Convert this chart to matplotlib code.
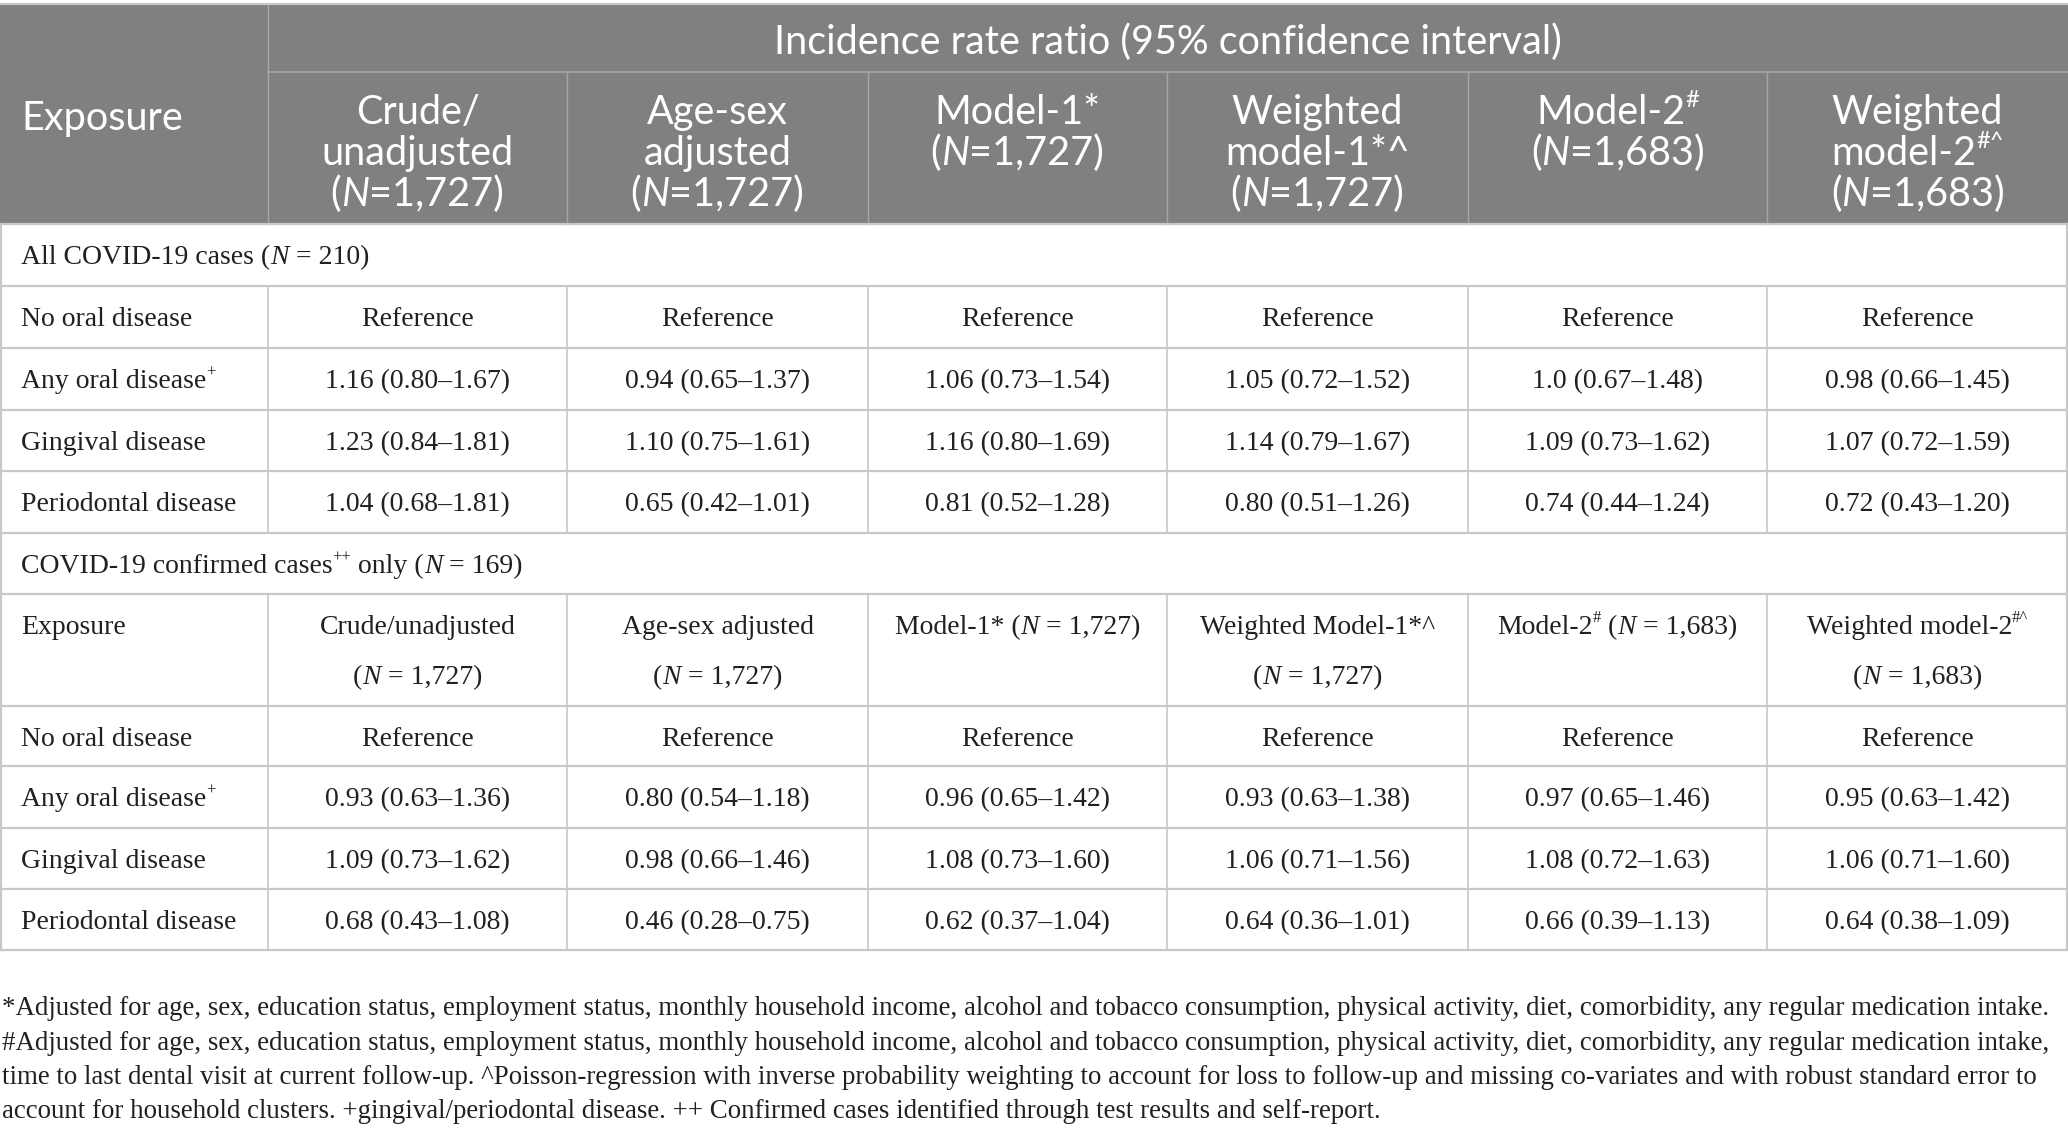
import re
import matplotlib
matplotlib.use("Agg")
import matplotlib.pyplot as plt
from matplotlib.font_manager import FontProperties
from matplotlib.patches import Rectangle

# ---------------- data ----------------
spanner_title = "Incidence rate ratio (95% confidence interval)"
exposure_label = "Exposure"
header_cells = [
    ["Crude/", "unadjusted", "({i:N}=1,727)"],
    ["Age-sex", "adjusted", "({i:N}=1,727)"],
    ["Model-1*", "({i:N}=1,727)"],
    ["Weighted", "model-1*^", "({i:N}=1,727)"],
    ["Model-2{s:#}", "({i:N}=1,683)"],
    ["Weighted", "model-2{s:#^}", "({i:N}=1,683)"],
]
section1_title = "All COVID-19 cases ({i:N} = 210)"
section2_title = "COVID-19 confirmed cases{s:++} only ({i:N} = 169)"
categories = ["No oral disease", "Any oral disease{s:+}", "Gingival disease", "Periodontal disease"]
reference_label = "Reference"

all_any = ["1.16 (0.80–1.67)", "0.94 (0.65–1.37)", "1.06 (0.73–1.54)",
           "1.05 (0.72–1.52)", "1.0 (0.67–1.48)", "0.98 (0.66–1.45)"]
all_gingival = ["1.23 (0.84–1.81)", "1.10 (0.75–1.61)", "1.16 (0.80–1.69)",
                "1.14 (0.79–1.67)", "1.09 (0.73–1.62)", "1.07 (0.72–1.59)"]
all_perio = ["1.04 (0.68–1.81)", "0.65 (0.42–1.01)", "0.81 (0.52–1.28)",
             "0.80 (0.51–1.26)", "0.74 (0.44–1.24)", "0.72 (0.43–1.20)"]

sub_header_cells = [
    ["Crude/unadjusted", "({i:N} = 1,727)"],
    ["Age-sex adjusted", "({i:N} = 1,727)"],
    ["Model-1* ({i:N} = 1,727)"],
    ["Weighted Model-1*^", "({i:N} = 1,727)"],
    ["Model-2{s:#} ({i:N} = 1,683)"],
    ["Weighted model-2{s:#^}", "({i:N} = 1,683)"],
]
conf_any = ["0.93 (0.63–1.36)", "0.80 (0.54–1.18)", "0.96 (0.65–1.42)",
            "0.93 (0.63–1.38)", "0.97 (0.65–1.46)", "0.95 (0.63–1.42)"]
conf_gingival = ["1.09 (0.73–1.62)", "0.98 (0.66–1.46)", "1.08 (0.73–1.60)",
                 "1.06 (0.71–1.56)", "1.08 (0.72–1.63)", "1.06 (0.71–1.60)"]
conf_perio = ["0.68 (0.43–1.08)", "0.46 (0.28–0.75)", "0.62 (0.37–1.04)",
              "0.64 (0.36–1.01)", "0.66 (0.39–1.13)", "0.64 (0.38–1.09)"]

footnotes = [
    "*Adjusted for age, sex, education status, employment status, monthly household income, alcohol and tobacco consumption, physical activity, diet, comorbidity, any regular medication intake.",
    "#Adjusted for age, sex, education status, employment status, monthly household income, alcohol and tobacco consumption, physical activity, diet, comorbidity, any regular medication intake,",
    "time to last dental visit at current follow-up. ^Poisson-regression with inverse probability weighting to account for loss to follow-up and missing co-variates and with robust standard error to",
    "account for household clusters. +gingival/periodontal disease. ++ Confirmed cases identified through test results and self-report.",
]

# ---------------- layout / style ----------------
W, H = 2068, 1140
SERIF = ["Liberation Serif", "DejaVu Serif"]
SANS = ["Lato", "DejaVu Sans"]
HDR_BG = "#808080"
GRID = "#c8c8c8"
HDR_LINE = "#a6a6a6"
TXT = "#231f20"

col_edges = [0, 268, 567, 868, 1167, 1468, 1767, 2068]
row_edges = [224, 286, 348, 410, 471, 533, 594, 706, 766, 828, 889, 950]

fig = plt.figure(figsize=(W / 100, H / 100), dpi=100)
ax = fig.add_axes([0, 0, 1, 1])
ax.set_xlim(0, W)
ax.set_ylim(H, 0)
ax.axis("off")
renderer = fig.canvas.get_renderer()


def fprop(family, size, italic=False):
    return FontProperties(family=family, size=size,
                          style="italic" if italic else "normal")


def text_width(s, prop):
    w1, _, _ = renderer.get_text_width_height_descent("|" + s + "|", prop, ismath=False)
    w2, _, _ = renderer.get_text_width_height_descent("||", prop, ismath=False)
    return w1 - w2


def rich(x, y_center, markup, family, size, color, ha="left", cap=0.66):
    pieces = []
    for tok in re.split(r"(\{[is]:[^}]*\})", markup):
        if not tok:
            continue
        if tok.startswith("{i:"):
            pieces.append((tok[3:-1], "i"))
        elif tok.startswith("{s:"):
            pieces.append((tok[3:-1], "s"))
        else:
            pieces.append((tok, "n"))
    px = size * 100 / 72
    baseline = y_center + cap * px / 2
    props, widths = [], []
    for t, k in pieces:
        p = fprop(family, size * (0.6 if k == "s" else 1.0), k == "i")
        props.append(p)
        widths.append(text_width(t, p))
    total = sum(widths)
    x0 = x if ha == "left" else x - total / 2
    for (t, k), p, w in zip(pieces, props, widths):
        dy = -0.42 * px if k == "s" else 0
        ax.text(x0, baseline + dy, t, fontproperties=p, color=color,
                ha="left", va="baseline")
        x0 += w


# ---------------- header ----------------
ax.add_patch(Rectangle((0, 4), W, row_edges[0] - 4, facecolor=HDR_BG,
                       edgecolor="none", zorder=0))
ax.plot([col_edges[1], W], [72, 72], color=HDR_LINE, lw=1.2, zorder=1)
for xe in col_edges[1:-1]:
    y_top = 4 if xe == col_edges[1] else 72
    ax.plot([xe, xe], [y_top, row_edges[0]], color=HDR_LINE, lw=1.0, zorder=1)

HSIZE = 28.5
rich(21, 116, exposure_label, SANS, HSIZE, "white", cap=0.72)
rich((col_edges[1] + W) / 2, 40, spanner_title, SANS, HSIZE, "white", ha="center", cap=0.72)
hdr_lines_y = [109.5, 150.4, 191.3]
for j, cell in enumerate(header_cells):
    xc = (col_edges[j + 1] + col_edges[j + 2]) / 2
    for li, line in enumerate(cell):
        rich(xc, hdr_lines_y[li], line, SANS, HSIZE, "white", ha="center", cap=0.72)

# ---------------- body ----------------
BSIZE = 20
body_rows = [
    ("section", section1_title),
    ("data", categories[0], [reference_label] * 6),
    ("data", categories[1], all_any),
    ("data", categories[2], all_gingival),
    ("data", categories[3], all_perio),
    ("section", section2_title),
    ("subhdr", exposure_label, sub_header_cells),
    ("data", categories[0], [reference_label] * 6),
    ("data", categories[1], conf_any),
    ("data", categories[2], conf_gingival),
    ("data", categories[3], conf_perio),
]

for i, row in enumerate(body_rows):
    top, bot = row_edges[i], row_edges[i + 1]
    yc = top + 31
    if row[0] == "section":
        rich(21, yc, row[1], SERIF, BSIZE, TXT)
    elif row[0] == "data":
        rich(21, yc, row[1], SERIF, BSIZE, TXT)
        for j, v in enumerate(row[2]):
            xc = (col_edges[j + 1] + col_edges[j + 2]) / 2
            rich(xc, yc, v, SERIF, BSIZE, TXT, ha="center")
    else:
        rich(21, yc, row[1], SERIF, BSIZE, TXT)
        for j, cell in enumerate(row[2]):
            xc = (col_edges[j + 1] + col_edges[j + 2]) / 2
            for li, line in enumerate(cell):
                rich(xc, yc + 50 * li, line, SERIF, BSIZE, TXT, ha="center")
    if row[0] != "section":
        for xe in col_edges[1:-1]:
            ax.plot([xe, xe], [top, bot], color=GRID, lw=1.2, zorder=1)

for ye in row_edges:
    ax.plot([0, W], [ye, ye], color=GRID, lw=1.6, zorder=2)
ax.plot([0, W], [4, 4], color=GRID, lw=1.6, zorder=2)
ax.plot([1, 1], [row_edges[0], row_edges[-1]], color=GRID, lw=1.6, zorder=2)
ax.plot([W - 1, W - 1], [row_edges[0], row_edges[-1]], color=GRID, lw=1.6, zorder=2)

# ---------------- footnotes ----------------
FSIZE = 18
p0 = fprop(SERIF, FSIZE)
w0 = text_width(footnotes[0], p0)
FSIZE = FSIZE * 2050 / w0
foot_y = [1006, 1041, 1075, 1109]
for y, line in zip(foot_y, footnotes):
    rich(2, y, line, SERIF, FSIZE, TXT)

fig.savefig("out.png", dpi=100, facecolor="white")
